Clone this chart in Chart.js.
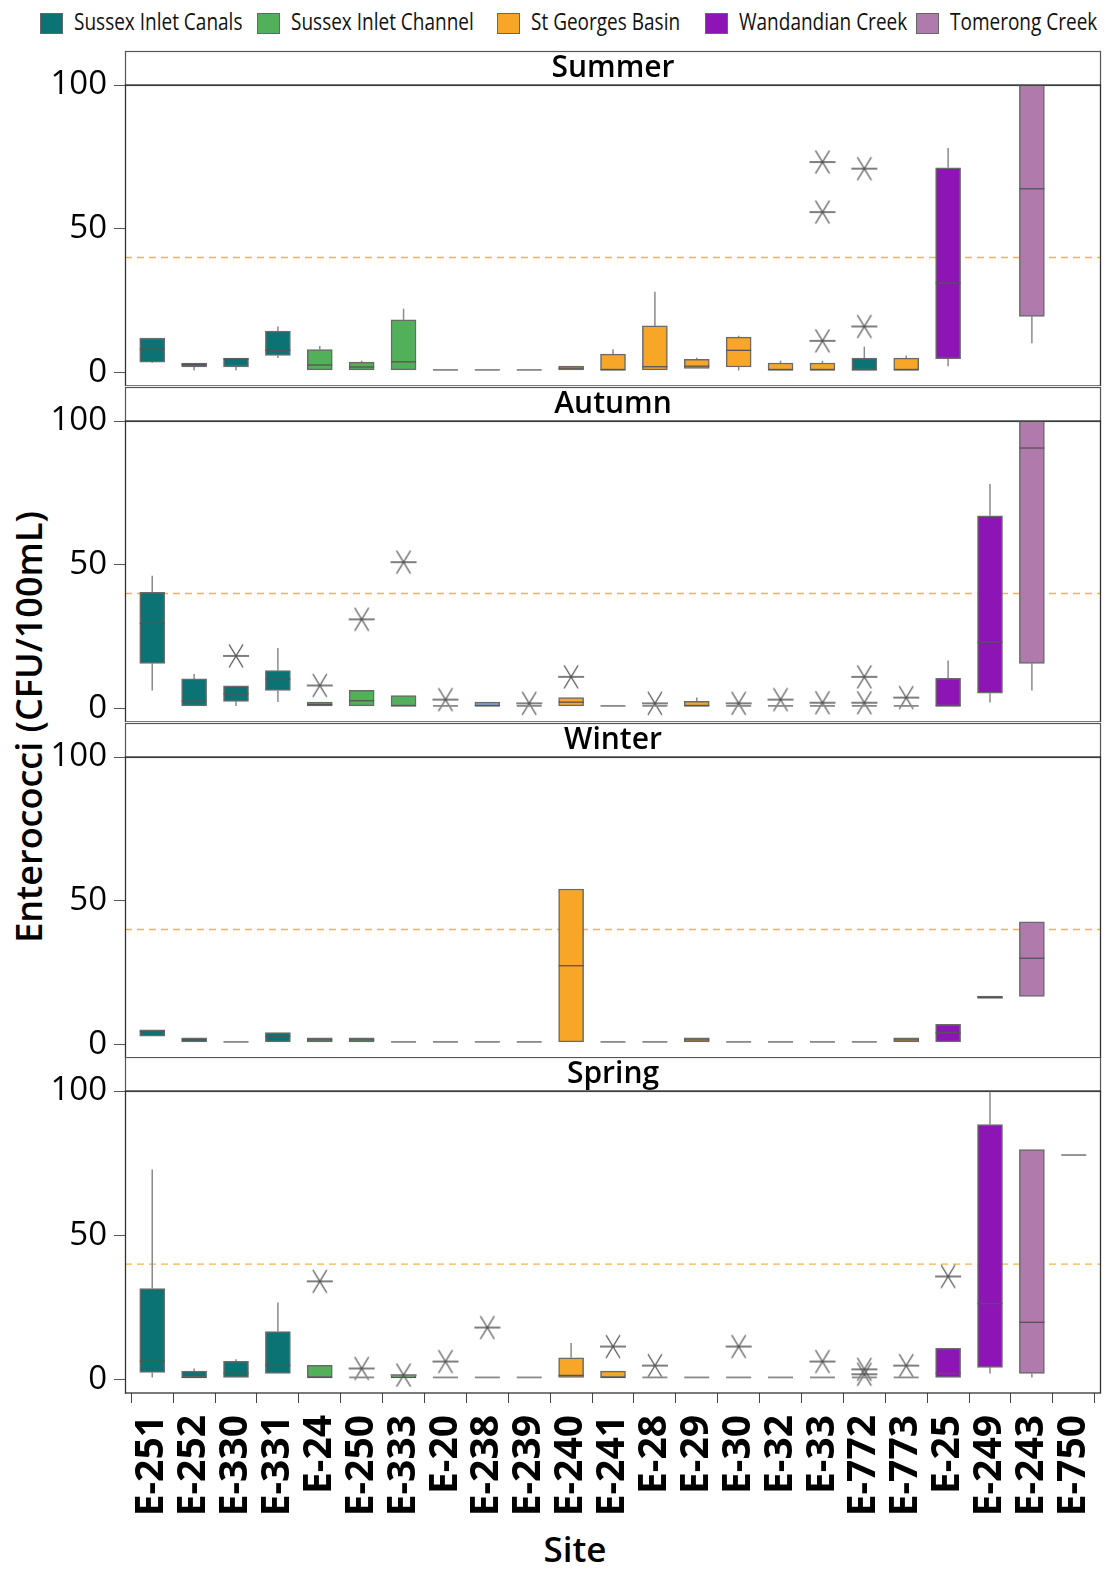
<!DOCTYPE html>
<html><head><meta charset="utf-8">
<script src="https://cdn.jsdelivr.net/npm/chart.js@4/dist/chart.umd.min.js"></script>
<style>
body{margin:0;background:#fff;width:1105px;height:1571px;position:relative;overflow:hidden;font-family:"Open Sans",sans-serif}
.panel{position:absolute;left:0;width:1105px}
.lg{position:absolute;top:9px;height:24px;display:flex;align-items:center;font-size:19px;color:#111;white-space:nowrap}
.lg i{display:inline-block;width:21px;height:19px;border:1px solid #666;margin-right:11px;margin-top:5px}
.lg span{display:inline-block;transform:scaleY(1.22);transform-origin:50% 50%}
#ytitle{position:absolute;left:28px;top:727px;transform:translate(-50%,-50%) rotate(-90deg);font-size:36px;font-weight:600;white-space:nowrap;color:#000}
#xtitle{position:absolute;left:575px;top:1548px;transform:translate(-50%,-50%);font-size:35px;font-weight:600;color:#000}
</style></head><body>
<div id="legend"></div>
<div id="ytitle">Enterococci (CFU/100mL)</div>
<div id="xtitle">Site</div>
<div class="panel" style="top:0px"><canvas id="c0" width="1105" height="386"></canvas></div>
<div class="panel" style="top:386px"><canvas id="c1" width="1105" height="336"></canvas></div>
<div class="panel" style="top:722px"><canvas id="c2" width="1105" height="336"></canvas></div>
<div class="panel" style="top:1057px"><canvas id="c3" width="1105" height="514"></canvas></div>
<script>
// ---------- DATA ----------
const sites = ['E-251','E-252','E-330','E-331','E-24','E-250','E-333','E-20','E-238','E-239','E-240','E-241','E-28','E-29','E-30','E-32','E-33','E-772','E-773','E-25','E-249','E-243','E-750'];
const groups = ['Sussex Inlet Canals','Sussex Inlet Channel','St Georges Basin','Wandandian Creek','Tomerong Creek'];
const siteGroup = ['Sussex Inlet Canals','Sussex Inlet Canals','Sussex Inlet Canals','Sussex Inlet Canals',
  'Sussex Inlet Channel','Sussex Inlet Channel','Sussex Inlet Channel','Sussex Inlet Channel','Sussex Inlet Channel','Sussex Inlet Channel',
  'St Georges Basin','St Georges Basin','St Georges Basin','St Georges Basin','St Georges Basin','St Georges Basin','St Georges Basin','St Georges Basin','St Georges Basin',
  'Wandandian Creek','Wandandian Creek','Tomerong Creek','Tomerong Creek'];
const seasons = ['Summer','Autumn','Winter','Spring'];
const guideline = 40;
// box = [low whisker, Q1, median, Q3, high whisker]; null = no data
const summerBoxes = [
  [3.3,3.6,8.1,12.0,12.0],[0.7,1.9,2.8,3.3,3.3],[0.7,1.9,4.7,5.0,5.0],[5.0,5.9,7.7,14.4,16.0],
  [0.9,0.9,2.6,8.0,9.2],[0.9,0.9,1.9,3.6,4.1],[0.9,0.9,3.7,18.3,22.2],[0.9,0.9,0.9,0.9,0.9],
  [0.9,0.9,0.9,0.9,0.9],[0.9,0.9,0.9,0.9,0.9],[0.9,0.9,1.5,2.2,2.2],[0.9,0.9,0.9,6.4,8.1],
  [0.9,0.9,2.0,16.2,28.1],[1.4,1.4,2.2,4.6,5.1],[0.7,1.9,7.7,12.3,12.8],[0.9,0.9,0.9,3.3,4.1],
  [0.9,0.9,0.9,3.3,4.1],[0.9,0.9,0.9,5.0,9.0],[0.9,0.9,0.9,5.0,5.9],[2.2,4.8,31.1,71.2,78.1],
  null,[10.2,19.5,63.9,100,100],null];
const summerOutliers = [[16,73.2],[16,55.8],[16,11.0],[17,70.9],[17,16.0]];
const autumnBoxes = [
  [6.3,15.7,29.6,40.4,46.2],[0.9,0.9,2.6,10.3,12.0],[0.9,2.5,5.0,7.9,7.9],[2.3,6.3,10.2,13.2,21.0],
  [0.9,0.9,1.4,2.2,2.2],[0.9,0.9,2.7,6.3,6.3],[0.9,0.9,0.9,4.5,4.5],[0.9,0.9,0.9,0.9,0.9],
  [0.9,0.9,0.9,2.2,2.2],[0.9,0.9,0.9,0.9,0.9],[0.9,0.9,2.2,3.8,3.8],[0.9,0.9,0.9,0.9,0.9],
  [0.9,0.9,0.9,0.9,0.9],[0.9,0.9,0.9,2.5,3.8],[0.9,0.9,0.9,0.9,0.9],[0.9,0.9,0.9,0.9,0.9],
  [0.9,0.9,0.9,0.9,0.9],[0.9,0.9,0.9,0.9,0.9],[0.9,0.9,0.9,0.9,0.9],[0.9,0.9,0.9,10.5,16.7],
  [2.1,5.3,23.1,67.0,78.1],[6.3,15.7,90.6,100,100],null];
const autumnOutliers = [[2,18.3],[4,8.0],[5,31.0],[6,50.9],[7,3.1],[9,1.8],[10,11.0],[12,1.8],[14,1.8],[15,3.1],[16,2.0],[17,11.0],[17,2.0],[18,3.8]];
const winterBoxes = [
  [2.9,2.9,4.5,5.1,5.1],[0.9,0.9,1.6,2.3,2.3],[0.9,0.9,0.9,0.9,0.9],[0.9,0.9,2.9,4.1,4.1],
  [0.9,0.9,1.6,2.3,2.3],[0.9,0.9,1.6,2.3,2.3],[0.9,0.9,0.9,0.9,0.9],[0.9,0.9,0.9,0.9,0.9],
  [0.9,0.9,0.9,0.9,0.9],[0.9,0.9,0.9,0.9,0.9],[0.9,0.9,27.4,54.1,54.1],[0.9,0.9,0.9,0.9,0.9],
  [0.9,0.9,0.9,0.9,0.9],[0.9,0.9,1.6,2.3,2.3],[0.9,0.9,0.9,0.9,0.9],[0.9,0.9,0.9,0.9,0.9],
  [0.9,0.9,0.9,0.9,0.9],[0.9,0.9,0.9,0.9,0.9],[0.9,0.9,1.6,2.3,2.3],[0.9,0.9,4.1,7.0,7.0],
  [16.0,16.0,16.4,16.8,16.8],[16.7,16.7,30.0,42.7,42.7],null];
const winterOutliers = [];
const springBoxes = [
  [0.7,2.4,6.3,31.5,72.8],[0.7,0.7,0.7,2.9,3.8],[0.7,0.7,2.1,6.3,7.0],[2.1,2.1,4.9,16.6,26.7],
  [0.7,0.7,0.7,4.9,4.9],[0.7,0.7,0.7,0.7,0.7],[0.7,0.7,0.7,1.2,1.2],[0.7,0.7,0.7,0.7,0.7],
  [0.7,0.7,0.7,0.7,0.7],[0.7,0.7,0.7,0.7,0.7],[0.7,0.7,1.4,7.5,12.6],[0.7,0.7,0.7,2.9,2.9],
  [0.7,0.7,0.7,0.7,0.7],[0.7,0.7,0.7,0.7,0.7],[0.7,0.7,0.7,0.7,0.7],[0.7,0.7,0.7,0.7,0.7],
  [0.7,0.7,0.7,0.7,0.7],[0.7,0.7,0.7,0.7,0.7],[0.7,0.7,0.7,0.7,0.7],[0.7,0.7,2.1,10.8,10.8],
  [2.1,4.2,26.3,88.4,100],[0.7,2.1,19.8,79.7,79.7],[77.8,77.8,77.8,77.8,77.8]];
const springOutliers = [[4,34.0],[5,3.8],[6,1.5],[7,6.2],[8,18.0],[11,11.4],[12,4.8],[14,11.4],[16,6.2],[17,3.5],[17,1.8],[18,4.8],[19,35.7]];
// per-season group exceptions (site index -> group)
const groupOverrides = {Summer:{17:'Sussex Inlet Canals'}, Autumn:{8:'Other'}, Winter:{}, Spring:{}};

// ---------- STYLE ----------
const groupColor = {'Sussex Inlet Canals':'#0b7373','Sussex Inlet Channel':'#52b05a','St Georges Basin':'#f8a627','Wandandian Creek':'#8e15b5','Tomerong Creek':'#b07aad','Other':'#7ba7e0'};
const FONT = '"Open Sans", "Noto Sans", sans-serif';

// legend
const lgX = [40,257,497,705,916];
const lg = document.getElementById('legend');
groups.forEach((g,i)=>{
  const d=document.createElement('div'); d.className='lg'; d.style.left=lgX[i]+'px';
  d.innerHTML='<i style="background:'+groupColor[g]+'"></i><span>'+g+'</span>';
  lg.appendChild(d);
});

// asterisk point style
const star = document.createElement('canvas'); star.width=28; star.height=26;
(function(){const c=star.getContext('2d'); c.strokeStyle='#555'; c.lineWidth=1.3; c.beginPath();
 c.moveTo(1,13);c.lineTo(27,13); c.moveTo(7,1.5);c.lineTo(21,24.5); c.moveTo(21,1.5);c.lineTo(7,24.5); c.stroke();})();

const boxPlugin = {
  id:'boxPlugin',
  beforeDraw(chart){
    const {ctx, chartArea:a} = chart; const o = chart.options.plugins.boxPlugin;
    ctx.save();
    ctx.strokeStyle='#555'; ctx.lineWidth=1.2;
    ctx.strokeRect(a.left+0.5, a.top-34+0.5, a.right-a.left-1, 34);
    ctx.fillStyle='#000'; ctx.font='600 30px '+FONT; ctx.textAlign='center'; ctx.textBaseline='middle';
    ctx.fillText(o.title,(a.left+a.right)/2, a.top-17);
    ctx.restore();
  },
  beforeDatasetsDraw(chart){
    const {ctx, chartArea:a, scales:{x,y}} = chart; const o = chart.options.plugins.boxPlugin;
    ctx.save(); ctx.beginPath(); ctx.rect(a.left,a.top,a.right-a.left,a.bottom-a.top); ctx.clip();
    const gy = y.getPixelForValue(guideline);
    ctx.strokeStyle='rgba(248,166,39,0.85)'; ctx.lineWidth=1.3; ctx.setLineDash([7,5]);
    ctx.beginPath(); ctx.moveTo(a.left,gy); ctx.lineTo(a.right,gy); ctx.stroke(); ctx.setLineDash([]);
    ctx.strokeStyle='#8a8a8a'; ctx.lineWidth=1.5;
    o.boxes.forEach((b,i)=>{ if(!b) return; const px=x.getPixelForValue(i);
      ctx.beginPath();
      if(b[0]<b[1]){ctx.moveTo(px,y.getPixelForValue(b[0]));ctx.lineTo(px,y.getPixelForValue(b[1]));}
      if(b[4]>b[3]){ctx.moveTo(px,y.getPixelForValue(b[3]));ctx.lineTo(px,y.getPixelForValue(b[4]));}
      ctx.stroke();});
    ctx.restore();
  },
  afterDatasetsDraw(chart){
    const {ctx, chartArea:a, scales:{x,y}} = chart; const o = chart.options.plugins.boxPlugin;
    ctx.save(); ctx.beginPath(); ctx.rect(a.left,a.top,a.right-a.left,a.bottom-a.top); ctx.clip();
    const hw = 12.5;
    o.boxes.forEach((b,i)=>{ if(!b) return; const px=x.getPixelForValue(i); const py=y.getPixelForValue(b[2]);
      const flat = b[3]===b[1];
      ctx.strokeStyle = flat ? '#8a8a8a' : '#555'; ctx.lineWidth = flat ? 1.8 : 1.3;
      ctx.beginPath(); ctx.moveTo(px-hw,py); ctx.lineTo(px+hw,py); ctx.stroke();});
    ctx.restore();
    ctx.save(); ctx.strokeStyle='#333'; ctx.lineWidth=1.3;
    ctx.strokeRect(a.left+0.5,a.top,a.right-a.left-1,a.bottom-a.top); ctx.restore();
  }
};

function makePanel(k, boxes, outliers, isBottom){
  const season = seasons[k];
  const ov = groupOverrides[season];
  const idx = []; boxes.forEach((b,i)=>{ if(b && b[3]>b[1]) idx.push(i); });
  const colors = idx.map(i=> groupColor[ov[i] || siteGroup[i]]);
  const canvas = document.getElementById('c'+k);
  const padTop = k===0 ? 85 : (k===3 ? 34 : 35);
  new Chart(canvas, {
    type:'bar',
    data:{datasets:[
      {type:'scatter', data: outliers.map(o=>({x:o[0], y:o[1]})), pointStyle: star, pointRadius: 13, order:0},
      {type:'bar', data: idx.map(i=>({x:i, y:[boxes[i][1], boxes[i][3]]})), backgroundColor: colors,
       borderColor:'#6a6a6a', borderWidth:1.5, borderSkipped:false, barThickness:25, grouped:false, order:1}
    ]},
    options:{
      responsive:false, animation:false, events:[],
      layout:{autoPadding:false, padding:{top:padTop, right:4, left:0, bottom:0}},
      plugins:{legend:{display:false}, tooltip:{enabled:false}, boxPlugin:{title:season, boxes}},
      scales:{
        x:{type:'linear', min:-0.65, max:22.65, offset:false, display:isBottom,
           afterBuildTicks:s=>{s.ticks = sites.map((_,i)=>({value:i}));},
           afterFit:s=>{ if(isBottom) s.height = 178; s.paddingLeft=0; s.paddingRight=0; },
           ticks:{autoSkip:false, maxRotation:90, minRotation:90, padding:12, color:'#000',
             font:{size:39, weight:'bold', family:FONT}, callback:(v)=>sites[v]},
           grid:{drawOnChartArea:false, tickLength:10, color:'#444'}, border:{display:false},
           title:{display:false}},
        y:{min:-4.7, max:100,
           afterBuildTicks:s=>{s.ticks=[{value:0},{value:50},{value:100}];},
           afterFit:s=>{s.width=125; s.paddingTop=0; s.paddingBottom=0;},
           ticks:{padding:7, color:'#000', font:{size:33, family:FONT}},
           grid:{drawOnChartArea:false, tickLength:11, color:'#555'}, border:{display:true, color:'#666'}}
      }
    },
    plugins:[boxPlugin]
  });
}
makePanel(0, summerBoxes, summerOutliers, false);
makePanel(1, autumnBoxes, autumnOutliers, false);
makePanel(2, winterBoxes, winterOutliers, false);
makePanel(3, springBoxes, springOutliers, true);
</script>
</body></html>
